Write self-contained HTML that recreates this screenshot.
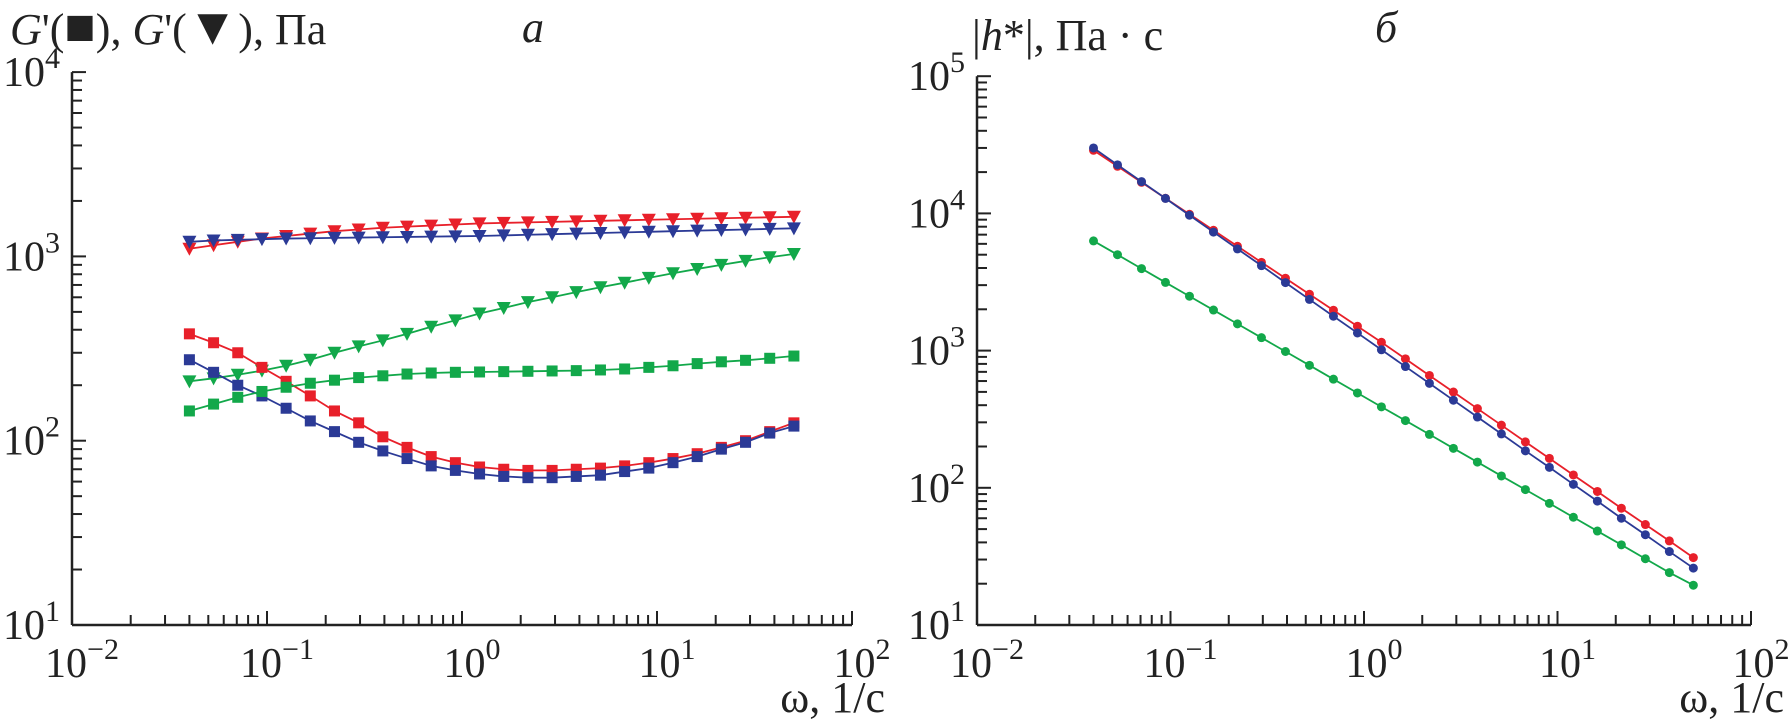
<!DOCTYPE html>
<html><head><meta charset="utf-8"><style>
body{margin:0;background:#fff;}
svg{display:block;font-family:"Liberation Serif",serif;}
</style></head><body>
<svg id="chart" width="1788" height="726" viewBox="0 0 1788 726" xmlns="http://www.w3.org/2000/svg"></svg>
<script>
const omega=[];for(let k=0;k<26;k++){omega.push(0.04*Math.pow(10,k*3.1/25));}
const gpRed=[380,340,300,250,210,175,145,125,105,92,82,76,72,70,69,69,70,71,73,76,80,85,92,100,112,125];
const gpBlue=[275,235,200,175,150,128,112,98,88,80,73,69,66,64,63,63,64,65,68,71,76,82,90,98,110,120];
const gpGreen=[145,158,172,185,195,205,213,220,225,230,233,235,236,237,238,239,240,242,245,250,255,262,268,273,280,288];
const gppRed=[1100,1150,1200,1250,1290,1330,1370,1400,1430,1450,1470,1490,1510,1520,1530,1540,1550,1560,1570,1580,1590,1600,1610,1620,1630,1640];
const gppBlue=[1200,1220,1230,1240,1250,1255,1260,1265,1270,1275,1280,1285,1290,1300,1310,1320,1330,1340,1350,1360,1370,1380,1390,1400,1410,1420];
const gppGreen=[210,218,228,240,255,275,300,325,350,380,415,450,490,525,565,600,640,680,720,765,810,855,900,945,990,1030];
const etaRed=[28840,22050,16860,12890,9850,7530,5760,4400,3370,2575,1970,1505,1150,871,659,499,378,286,216,164,124,94,71,54,41,31];
const etaBlue=[30000,22600,17050,12860,9700,7310,5510,4160,3130,2360,1780,1345,1014,765,577,435,328,247,186,141,106,80,60,45.5,34.3,26];
const etaGreen=[6300,5000,3960,3140,2490,1975,1566,1242,985,781,619,491,389,309,245,194,154,122,97,77,61,48.4,38.4,30.4,24.1,19.5];
const xTickExp=[-2,-1,0,1,2];
const yTickExpA=[1,2,3,4];
const yTickExpB=[1,2,3,4,5];

const NS="http://www.w3.org/2000/svg";
const svg=document.getElementById('chart');
const RED="#e8202a",BLUE="#2b3a96",GREEN="#12a84a";
function el(tag,attrs,parent){const e=document.createElementNS(NS,tag);for(const k in attrs)e.setAttribute(k,attrs[k]);(parent||svg).appendChild(e);return e;}

function makeAxes(p){
  const g=el('g',{});
  
  
  const X=v=>p.x0+(Math.log10(v)-p.xmin)*p.dx;
  const Y=v=>p.y0-(Math.log10(v)-p.ymin)*p.dy;
  el('line',{x1:p.x0,y1:p.y0,x2:p.x0+(p.xmax-p.xmin)*p.dx,y2:p.y0,stroke:'#222','stroke-width':2.5},g);
  el('line',{x1:p.x0,y1:p.y0,x2:p.x0,y2:p.y0-(p.ymax-p.ymin)*p.dy,stroke:'#222','stroke-width':2.5},g);
  for(let e=p.xmin;e<=p.xmax;e++){
    for(let m=1;m<=9;m++){ if(e===p.xmax&&m>1)break;
      const x=X(m*Math.pow(10,e));
      el('line',{x1:x,y1:p.y0,x2:x,y2:p.y0-(m===1?14:10),stroke:'#222','stroke-width':2},g);}
  }
  for(let e=p.ymin;e<=p.ymax;e++){
    for(let m=1;m<=9;m++){ if(e===p.ymax&&m>1)break;
      const y=Y(m*Math.pow(10,e));
      el('line',{x1:p.x0,y1:y,x2:p.x0+(m===1?14:10),y2:y,stroke:'#222','stroke-width':2},g);}
  }
  xTickExp.forEach(e=>{
    const t=el('text',{x:X(Math.pow(10,e))+10,y:p.y0+52,'font-size':42,'text-anchor':'middle',fill:'#222'},g);
    
    
    t.innerHTML='10<tspan dy="-18" font-size="30">'+(e<0?'\u2212'+(-e):e)+'</tspan>';
  });
  p.yExps.forEach(e=>{
    const t=el('text',{x:p.x0-12,y:Y(Math.pow(10,e))+14,'font-size':42,'text-anchor':'end',fill:'#222'},g);
    
    
    t.innerHTML='10<tspan dy="-18" font-size="30">'+e+'</tspan>';
  });
  return {X,Y};
}
function series(ax,xs,ys,color,shape,name){
  const g=el('g',{});
  
  
  const pts=xs.map((x,i)=>[ax.X(x),ax.Y(ys[i])]);
  el('polyline',{points:pts.map(p=>p.join(',')).join(' '),fill:'none',stroke:color,'stroke-width':1.8},g);
  pts.forEach(([x,y])=>{
    if(shape==='sq')el('rect',{x:x-5.5,y:y-5.5,width:11,height:11,fill:color},g);
    else if(shape==='tri')el('polygon',{points:`${x-7},${y-6} ${x+7},${y-6} ${x},${y+7}`,fill:color},g);
    else el('circle',{cx:x,cy:y,r:4.5,fill:color},g);
  });
}
const A=makeAxes({name:'panel-a',x0:72,y0:625,dx:195,dy:184.3,xmin:-2,xmax:2,ymin:1,ymax:4,yExps:yTickExpA});
const B=makeAxes({name:'panel-b',x0:977,y0:625,dx:193.5,dy:137.2,xmin:-2,xmax:2,ymin:1,ymax:5,yExps:yTickExpB});
series(A,omega,gppRed,RED,'tri','g2-red');
series(A,omega,gppBlue,BLUE,'tri','g2-blue');
series(A,omega,gppGreen,GREEN,'tri','g2-green');
series(A,omega,gpRed,RED,'sq','g1-red');
series(A,omega,gpBlue,BLUE,'sq','g1-blue');
series(A,omega,gpGreen,GREEN,'sq','g1-green');
series(B,omega,etaRed,RED,'c','eta-red');
series(B,omega,etaBlue,BLUE,'c','eta-blue');
series(B,omega,etaGreen,GREEN,'c','eta-green');
</script>
<svg style="position:absolute;left:0;top:0" width="1788" height="726">
<text x="10" y="44" font-size="44" font-family="Liberation Serif,serif" fill="#222"><tspan font-style="italic">G</tspan>'(<tspan font-size="52">■</tspan>), <tspan font-style="italic">G</tspan>'(<tspan font-size="52">▼</tspan>), Па</text>
<text x="522" y="42" font-size="44" font-style="italic" font-family="Liberation Serif,serif" fill="#222">а</text>
<text x="972" y="50" font-size="44" font-family="Liberation Serif,serif" fill="#222">|<tspan font-style="italic">h</tspan>*|, Па · с</text>
<text x="1375" y="42" font-size="44" font-style="italic" font-family="Liberation Serif,serif" fill="#222">б</text>
<text x="885" y="712" font-size="44" text-anchor="end" font-family="Liberation Serif,serif" fill="#222">ω, 1/с</text>
<text x="1784" y="712" font-size="44" text-anchor="end" font-family="Liberation Serif,serif" fill="#222">ω, 1/с</text>
</svg>
</body></html>
